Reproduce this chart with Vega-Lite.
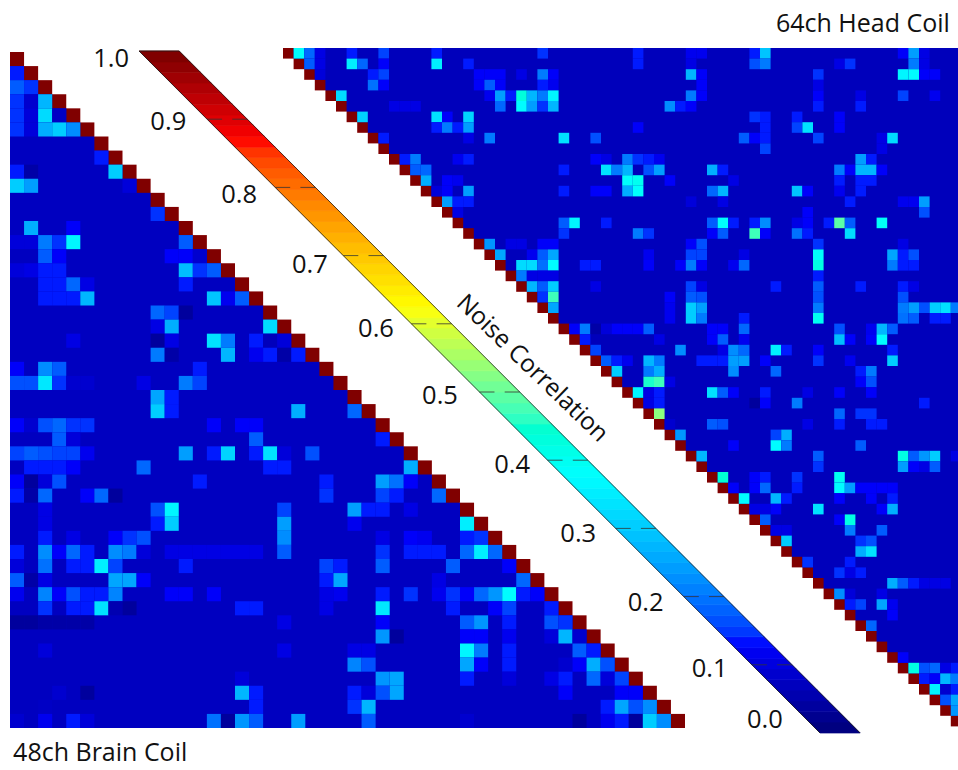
{"$schema":"https://vega.github.io/schema/vega-lite/v6.json","width":958,"height":770,"padding":0,"autosize":{"type":"none"},"background":"white","config":{"view":{"stroke":null},"style":{"cell":{"stroke":null}}},
"datasets":{
"lowerCells":[
{"r":0,"c":0,"v":1},{"r":1,"c":1,"v":1},{"r":2,"c":2,"v":1},{"r":3,"c":3,"v":1},{"r":4,"c":4,"v":1},{"r":5,"c":5,"v":1},{"r":6,"c":6,"v":1},{"r":7,"c":7,"v":1},{"r":8,"c":8,"v":1},{"r":9,"c":9,"v":1},{"r":10,"c":10,"v":1},{"r":11,"c":11,"v":1},{"r":12,"c":12,"v":1},{"r":13,"c":13,"v":1},{"r":14,"c":14,"v":1},{"r":15,"c":15,"v":1},{"r":16,"c":16,"v":1},{"r":17,"c":17,"v":1},{"r":18,"c":18,"v":1},{"r":19,"c":19,"v":1},{"r":20,"c":20,"v":1},{"r":21,"c":21,"v":1},{"r":22,"c":22,"v":1},{"r":23,"c":23,"v":1},{"r":24,"c":24,"v":1},{"r":25,"c":25,"v":1},{"r":26,"c":26,"v":1},{"r":27,"c":27,"v":1},{"r":28,"c":28,"v":1},{"r":29,"c":29,"v":1},{"r":30,"c":30,"v":1},{"r":31,"c":31,"v":1},{"r":32,"c":32,"v":1},{"r":33,"c":33,"v":1},{"r":34,"c":34,"v":1},{"r":35,"c":35,"v":1},{"r":36,"c":36,"v":1},{"r":37,"c":37,"v":1},{"r":38,"c":38,"v":1},{"r":39,"c":39,"v":1},{"r":40,"c":40,"v":1},{"r":41,"c":41,"v":1},{"r":42,"c":42,"v":1},{"r":43,"c":43,"v":1},{"r":44,"c":44,"v":1},{"r":45,"c":45,"v":1},{"r":46,"c":46,"v":1},{"r":47,"c":47,"v":1},
{"r":1,"c":0,"v":0.13},{"r":2,"c":0,"v":0.17},{"r":2,"c":1,"v":0.14},{"r":3,"c":0,"v":0.14},{"r":3,"c":1,"v":0.08},{"r":3,"c":2,"v":0.27},{"r":4,"c":0,"v":0.14},{"r":4,"c":1,"v":0.09},{"r":4,"c":2,"v":0.32},{"r":4,"c":3,"v":0.07},{"r":5,"c":0,"v":0.14},{"r":5,"c":1,"v":0.09},{"r":5,"c":2,"v":0.26},{"r":5,"c":3,"v":0.3},{"r":5,"c":4,"v":0.22},{"r":7,"c":6,"v":0.13},{"r":8,"c":0,"v":0.13},{"r":8,"c":1,"v":0.04},{"r":8,"c":7,"v":0.3},{"r":9,"c":0,"v":0.3},{"r":9,"c":1,"v":0.24},{"r":9,"c":8,"v":0.09},{"r":11,"c":10,"v":0.14},{"r":12,"c":1,"v":0.26},{"r":12,"c":4,"v":0.12},{"r":13,"c":0,"v":0.09},{"r":13,"c":1,"v":0.09},{"r":13,"c":2,"v":0.2},{"r":13,"c":3,"v":0.14},{"r":13,"c":4,"v":0.36},{"r":13,"c":12,"v":0.17},{"r":14,"c":2,"v":0.17},{"r":14,"c":3,"v":0.12},{"r":14,"c":11,"v":0.12},{"r":14,"c":12,"v":0.12},{"r":14,"c":13,"v":0.08},{"r":15,"c":0,"v":0.09},{"r":15,"c":1,"v":0.1},{"r":15,"c":2,"v":0.13},{"r":15,"c":3,"v":0.13},{"r":15,"c":12,"v":0.28},{"r":15,"c":13,"v":0.14},{"r":15,"c":14,"v":0.17},
{"r":16,"c":2,"v":0.13},{"r":16,"c":3,"v":0.13},{"r":16,"c":4,"v":0.18},{"r":16,"c":5,"v":0.1},{"r":16,"c":12,"v":0.13},{"r":17,"c":2,"v":0.13},{"r":17,"c":3,"v":0.13},{"r":17,"c":4,"v":0.13},{"r":17,"c":5,"v":0.27},{"r":17,"c":14,"v":0.29},{"r":17,"c":15,"v":0.11},{"r":17,"c":16,"v":0.17},{"r":18,"c":10,"v":0.18},{"r":18,"c":11,"v":0.15},{"r":18,"c":12,"v":0.03},{"r":19,"c":10,"v":0.1},{"r":19,"c":11,"v":0.26},{"r":19,"c":18,"v":0.32},{"r":20,"c":4,"v":0.1},{"r":20,"c":10,"v":0.03},{"r":20,"c":11,"v":0.1},{"r":20,"c":14,"v":0.33},{"r":20,"c":15,"v":0.2},{"r":20,"c":17,"v":0.13},{"r":20,"c":18,"v":0.06},{"r":20,"c":19,"v":0.09},{"r":21,"c":10,"v":0.2},{"r":21,"c":11,"v":0.04},{"r":21,"c":15,"v":0.27},{"r":21,"c":17,"v":0.11},{"r":21,"c":18,"v":0.13},{"r":21,"c":19,"v":0.04},{"r":21,"c":20,"v":0.13},{"r":22,"c":0,"v":0.12},{"r":22,"c":2,"v":0.22},{"r":22,"c":3,"v":0.17},{"r":22,"c":13,"v":0.13},{"r":23,"c":0,"v":0.16},{"r":23,"c":1,"v":0.16},{"r":23,"c":2,"v":0.34},{"r":23,"c":3,"v":0.14},{"r":23,"c":4,"v":0.08},{"r":23,"c":5,"v":0.08},{"r":23,"c":9,"v":0.1},{"r":23,"c":12,"v":0.2},{"r":23,"c":13,"v":0.15},{"r":24,"c":10,"v":0.25},{"r":24,"c":11,"v":0.13},{"r":25,"c":10,"v":0.3},{"r":25,"c":11,"v":0.13},{"r":25,"c":20,"v":0.26},{"r":25,"c":24,"v":0.18},{"r":26,"c":0,"v":0.12},{"r":26,"c":1,"v":0.08},{"r":26,"c":2,"v":0.16},{"r":26,"c":3,"v":0.18},{"r":26,"c":4,"v":0.14},{"r":26,"c":5,"v":0.14},{"r":26,"c":14,"v":0.12},{"r":26,"c":16,"v":0.12},{"r":26,"c":17,"v":0.12},{"r":27,"c":3,"v":0.17},{"r":27,"c":4,"v":0.09},{"r":27,"c":17,"v":0.17},{"r":27,"c":26,"v":0.13},{"r":28,"c":0,"v":0.15},{"r":28,"c":1,"v":0.17},{"r":28,"c":2,"v":0.16},{"r":28,"c":3,"v":0.15},{"r":28,"c":4,"v":0.15},{"r":28,"c":5,"v":0.11},{"r":28,"c":12,"v":0.24},{"r":28,"c":14,"v":0.13},{"r":28,"c":15,"v":0.31},{"r":28,"c":17,"v":0.13},{"r":28,"c":18,"v":0.33},{"r":28,"c":19,"v":0.09},{"r":28,"c":21,"v":0.16},{"r":29,"c":1,"v":0.13},{"r":29,"c":2,"v":0.13},{"r":29,"c":3,"v":0.13},{"r":29,"c":4,"v":0.12},{"r":29,"c":9,"v":0.18},{"r":29,"c":18,"v":0.13},{"r":29,"c":19,"v":0.13},{"r":29,"c":28,"v":0.26},{"r":30,"c":0,"v":0.12},{"r":30,"c":1,"v":0.03},{"r":30,"c":2,"v":0.09},{"r":30,"c":3,"v":0.16},{"r":30,"c":13,"v":0.13},{"r":30,"c":22,"v":0.13},{"r":30,"c":26,"v":0.24},{"r":30,"c":27,"v":0.19},{"r":30,"c":28,"v":0.12},{"r":31,"c":0,"v":0.13},{"r":31,"c":1,"v":0.04},{"r":31,"c":2,"v":0.18},{"r":31,"c":5,"v":0.12},{"r":31,"c":6,"v":0.18},{"r":31,"c":7,"v":0.03},{"r":31,"c":22,"v":0.14},{"r":31,"c":26,"v":0.15},{"r":31,"c":27,"v":0.13},{"r":31,"c":30,"v":0.18},
{"r":32,"c":2,"v":0.1},{"r":32,"c":10,"v":0.16},{"r":32,"c":11,"v":0.36},{"r":32,"c":19,"v":0.15},{"r":32,"c":24,"v":0.24},{"r":32,"c":25,"v":0.13},{"r":32,"c":26,"v":0.13},{"r":32,"c":28,"v":0.1},{"r":33,"c":2,"v":0.1},{"r":33,"c":10,"v":0.13},{"r":33,"c":11,"v":0.3},{"r":33,"c":19,"v":0.24},{"r":33,"c":24,"v":0.11},{"r":33,"c":32,"v":0.35},{"r":34,"c":2,"v":0.13},{"r":34,"c":4,"v":0.1},{"r":34,"c":7,"v":0.12},{"r":34,"c":8,"v":0.14},{"r":34,"c":9,"v":0.16},{"r":34,"c":19,"v":0.22},{"r":34,"c":26,"v":0.1},{"r":34,"c":28,"v":0.12},{"r":34,"c":29,"v":0.11},{"r":34,"c":32,"v":0.13},{"r":34,"c":33,"v":0.14},{"r":35,"c":0,"v":0.13},{"r":35,"c":2,"v":0.22},{"r":35,"c":3,"v":0.12},{"r":35,"c":4,"v":0.18},{"r":35,"c":5,"v":0.13},{"r":35,"c":7,"v":0.22},{"r":35,"c":8,"v":0.2},{"r":35,"c":9,"v":0.09},{"r":35,"c":11,"v":0.1},{"r":35,"c":12,"v":0.1},{"r":35,"c":13,"v":0.1},{"r":35,"c":14,"v":0.1},{"r":35,"c":15,"v":0.1},{"r":35,"c":16,"v":0.1},{"r":35,"c":17,"v":0.1},{"r":35,"c":19,"v":0.17},{"r":35,"c":26,"v":0.14},{"r":35,"c":28,"v":0.13},{"r":35,"c":29,"v":0.13},{"r":35,"c":30,"v":0.13},{"r":35,"c":32,"v":0.18},{"r":35,"c":33,"v":0.35},{"r":35,"c":34,"v":0.18},{"r":36,"c":0,"v":0.09},{"r":36,"c":2,"v":0.19},{"r":36,"c":4,"v":0.13},{"r":36,"c":5,"v":0.13},{"r":36,"c":6,"v":0.35},{"r":36,"c":7,"v":0.15},{"r":36,"c":12,"v":0.13},{"r":36,"c":22,"v":0.15},{"r":36,"c":23,"v":0.13},{"r":36,"c":26,"v":0.17},{"r":36,"c":31,"v":0.17},{"r":36,"c":35,"v":0.12},{"r":37,"c":0,"v":0.17},{"r":37,"c":1,"v":0.04},{"r":37,"c":2,"v":0.1},{"r":37,"c":7,"v":0.25},{"r":37,"c":8,"v":0.25},{"r":37,"c":9,"v":0.12},{"r":37,"c":22,"v":0.13},{"r":37,"c":23,"v":0.25},{"r":37,"c":30,"v":0.1},{"r":37,"c":36,"v":0.18},{"r":38,"c":0,"v":0.11},{"r":38,"c":2,"v":0.21},{"r":38,"c":3,"v":0.12},{"r":38,"c":4,"v":0.16},{"r":38,"c":5,"v":0.13},{"r":38,"c":6,"v":0.13},{"r":38,"c":7,"v":0.21},{"r":38,"c":11,"v":0.12},{"r":38,"c":12,"v":0.12},{"r":38,"c":14,"v":0.12},{"r":38,"c":22,"v":0.1},{"r":38,"c":23,"v":0.11},{"r":38,"c":26,"v":0.13},{"r":38,"c":28,"v":0.14},{"r":38,"c":30,"v":0.11},{"r":38,"c":31,"v":0.14},{"r":38,"c":32,"v":0.12},{"r":38,"c":33,"v":0.18},{"r":38,"c":34,"v":0.23},{"r":38,"c":35,"v":0.37},{"r":38,"c":36,"v":0.13},{"r":38,"c":37,"v":0.12},{"r":39,"c":2,"v":0.14},{"r":39,"c":4,"v":0.13},{"r":39,"c":5,"v":0.13},{"r":39,"c":6,"v":0.33},{"r":39,"c":7,"v":0.05},{"r":39,"c":8,"v":0.03},{"r":39,"c":16,"v":0.13},{"r":39,"c":17,"v":0.13},{"r":39,"c":22,"v":0.1},{"r":39,"c":26,"v":0.34},{"r":39,"c":31,"v":0.13},{"r":39,"c":34,"v":0.12},{"r":39,"c":35,"v":0.15},{"r":39,"c":38,"v":0.13},
{"r":40,"c":0,"v":0.03},{"r":40,"c":1,"v":0.03},{"r":40,"c":2,"v":0.04},{"r":40,"c":3,"v":0.04},{"r":40,"c":4,"v":0.04},{"r":40,"c":5,"v":0.04},{"r":40,"c":19,"v":0.1},{"r":40,"c":26,"v":0.12},{"r":40,"c":32,"v":0.17},{"r":40,"c":33,"v":0.23},{"r":40,"c":35,"v":0.13},{"r":40,"c":38,"v":0.16},{"r":40,"c":39,"v":0.14},{"r":41,"c":26,"v":0.23},{"r":41,"c":27,"v":0.03},{"r":41,"c":32,"v":0.12},{"r":41,"c":33,"v":0.12},{"r":41,"c":35,"v":0.11},{"r":41,"c":38,"v":0.09},{"r":41,"c":39,"v":0.27},{"r":41,"c":40,"v":0.08},{"r":42,"c":2,"v":0.09},{"r":42,"c":19,"v":0.1},{"r":42,"c":24,"v":0.1},{"r":42,"c":25,"v":0.1},{"r":42,"c":32,"v":0.36},{"r":42,"c":33,"v":0.2},{"r":42,"c":35,"v":0.13},{"r":42,"c":40,"v":0.17},{"r":42,"c":41,"v":0.13},{"r":43,"c":24,"v":0.21},{"r":43,"c":25,"v":0.16},{"r":43,"c":32,"v":0.25},{"r":43,"c":33,"v":0.12},{"r":43,"c":35,"v":0.13},{"r":43,"c":39,"v":0.08},{"r":43,"c":40,"v":0.12},{"r":43,"c":41,"v":0.26},{"r":43,"c":42,"v":0.16},{"r":44,"c":16,"v":0.09},{"r":44,"c":26,"v":0.23},{"r":44,"c":27,"v":0.25},{"r":44,"c":32,"v":0.13},{"r":44,"c":35,"v":0.09},{"r":44,"c":38,"v":0.1},{"r":44,"c":39,"v":0.13},{"r":44,"c":41,"v":0.18},{"r":44,"c":42,"v":0.09},{"r":44,"c":43,"v":0.15},{"r":45,"c":3,"v":0.08},{"r":45,"c":5,"v":0.03},{"r":45,"c":16,"v":0.27},{"r":45,"c":17,"v":0.13},{"r":45,"c":24,"v":0.13},{"r":45,"c":25,"v":0.09},{"r":45,"c":26,"v":0.16},{"r":45,"c":27,"v":0.25},{"r":45,"c":39,"v":0.12},{"r":45,"c":43,"v":0.12},{"r":45,"c":44,"v":0.12},{"r":46,"c":2,"v":0.07},{"r":46,"c":17,"v":0.13},{"r":46,"c":24,"v":0.14},{"r":46,"c":25,"v":0.27},{"r":46,"c":42,"v":0.13},{"r":46,"c":43,"v":0.25},{"r":46,"c":44,"v":0.16},{"r":46,"c":45,"v":0.22},{"r":47,"c":0,"v":0.08},{"r":47,"c":2,"v":0.11},{"r":47,"c":4,"v":0.13},{"r":47,"c":5,"v":0.09},{"r":47,"c":14,"v":0.19},{"r":47,"c":15,"v":0.03},{"r":47,"c":16,"v":0.23},{"r":47,"c":17,"v":0.17},{"r":47,"c":20,"v":0.24},{"r":47,"c":25,"v":0.17},{"r":47,"c":32,"v":0.08},{"r":47,"c":40,"v":0.03},{"r":47,"c":42,"v":0.11},{"r":47,"c":43,"v":0.13},{"r":47,"c":44,"v":0.03},{"r":47,"c":45,"v":0.3},{"r":47,"c":46,"v":0.22}],
"upperCells":[
{"r":0,"c":0,"v":1},{"r":1,"c":1,"v":1},{"r":2,"c":2,"v":1},{"r":3,"c":3,"v":1},{"r":4,"c":4,"v":1},{"r":5,"c":5,"v":1},{"r":6,"c":6,"v":1},{"r":7,"c":7,"v":1},{"r":8,"c":8,"v":1},{"r":9,"c":9,"v":1},{"r":10,"c":10,"v":1},{"r":11,"c":11,"v":1},{"r":12,"c":12,"v":1},{"r":13,"c":13,"v":1},{"r":14,"c":14,"v":1},{"r":15,"c":15,"v":1},{"r":16,"c":16,"v":1},{"r":17,"c":17,"v":1},{"r":18,"c":18,"v":1},{"r":19,"c":19,"v":1},{"r":20,"c":20,"v":1},{"r":21,"c":21,"v":1},{"r":22,"c":22,"v":1},{"r":23,"c":23,"v":1},{"r":24,"c":24,"v":1},{"r":25,"c":25,"v":1},{"r":26,"c":26,"v":1},{"r":27,"c":27,"v":1},{"r":28,"c":28,"v":1},{"r":29,"c":29,"v":1},{"r":30,"c":30,"v":1},{"r":31,"c":31,"v":1},{"r":32,"c":32,"v":1},{"r":33,"c":33,"v":1},{"r":34,"c":34,"v":1},{"r":35,"c":35,"v":1},{"r":36,"c":36,"v":1},{"r":37,"c":37,"v":1},{"r":38,"c":38,"v":1},{"r":39,"c":39,"v":1},{"r":40,"c":40,"v":1},{"r":41,"c":41,"v":1},{"r":42,"c":42,"v":1},{"r":43,"c":43,"v":1},{"r":44,"c":44,"v":1},{"r":45,"c":45,"v":1},{"r":46,"c":46,"v":1},{"r":47,"c":47,"v":1},{"r":48,"c":48,"v":1},{"r":49,"c":49,"v":1},{"r":50,"c":50,"v":1},{"r":51,"c":51,"v":1},{"r":52,"c":52,"v":1},{"r":53,"c":53,"v":1},{"r":54,"c":54,"v":1},{"r":55,"c":55,"v":1},{"r":56,"c":56,"v":1},{"r":57,"c":57,"v":1},{"r":58,"c":58,"v":1},{"r":59,"c":59,"v":1},{"r":60,"c":60,"v":1},{"r":61,"c":61,"v":1},{"r":62,"c":62,"v":1},{"r":63,"c":63,"v":1},
{"r":0,"c":1,"v":0.38},{"r":0,"c":2,"v":0.18},{"r":0,"c":3,"v":0.1},{"r":0,"c":6,"v":0.13},{"r":0,"c":9,"v":0.15},{"r":0,"c":14,"v":0.13},{"r":0,"c":24,"v":0.14},{"r":0,"c":33,"v":0.13},{"r":0,"c":38,"v":0.11},{"r":0,"c":39,"v":0.11},{"r":0,"c":44,"v":0.13},{"r":0,"c":45,"v":0.29},{"r":0,"c":58,"v":0.12},{"r":0,"c":59,"v":0.24},{"r":0,"c":60,"v":0.1},
{"r":1,"c":2,"v":0.17},{"r":1,"c":3,"v":0.1},{"r":1,"c":6,"v":0.35},{"r":1,"c":7,"v":0.18},{"r":1,"c":9,"v":0.12},{"r":1,"c":14,"v":0.35},{"r":1,"c":17,"v":0.13},{"r":1,"c":33,"v":0.13},{"r":1,"c":38,"v":0.1},{"r":1,"c":44,"v":0.16},{"r":1,"c":45,"v":0.2},{"r":1,"c":52,"v":0.1},{"r":1,"c":53,"v":0.14},{"r":1,"c":59,"v":0.2},{"r":1,"c":60,"v":0.1},
{"r":2,"c":3,"v":0.09},{"r":2,"c":8,"v":0.13},{"r":2,"c":9,"v":0.15},{"r":2,"c":18,"v":0.12},{"r":2,"c":19,"v":0.12},{"r":2,"c":20,"v":0.12},{"r":2,"c":22,"v":0.1},{"r":2,"c":24,"v":0.2},{"r":2,"c":25,"v":0.12},{"r":2,"c":38,"v":0.27},{"r":2,"c":39,"v":0.12},{"r":2,"c":50,"v":0.14},{"r":2,"c":58,"v":0.36},{"r":2,"c":59,"v":0.37},{"r":2,"c":60,"v":0.12},{"r":2,"c":61,"v":0.12},
{"r":3,"c":8,"v":0.19},{"r":3,"c":9,"v":0.12},{"r":3,"c":18,"v":0.12},{"r":3,"c":19,"v":0.17},{"r":3,"c":20,"v":0.12},{"r":3,"c":24,"v":0.13},{"r":3,"c":25,"v":0.11},{"r":3,"c":39,"v":0.12},{"r":3,"c":50,"v":0.1},
{"r":4,"c":5,"v":0.32},{"r":4,"c":19,"v":0.11},{"r":4,"c":20,"v":0.24},{"r":4,"c":21,"v":0.13},{"r":4,"c":22,"v":0.43},{"r":4,"c":23,"v":0.27},{"r":4,"c":24,"v":0.2},{"r":4,"c":25,"v":0.36},{"r":4,"c":38,"v":0.2},{"r":4,"c":39,"v":0.12},{"r":4,"c":50,"v":0.12},{"r":4,"c":54,"v":0.1},{"r":4,"c":58,"v":0.15},{"r":4,"c":61,"v":0.11},
{"r":5,"c":10,"v":0.1},{"r":5,"c":11,"v":0.1},{"r":5,"c":12,"v":0.1},{"r":5,"c":20,"v":0.18},{"r":5,"c":22,"v":0.37},{"r":5,"c":23,"v":0.24},{"r":5,"c":24,"v":0.14},{"r":5,"c":25,"v":0.27},{"r":5,"c":36,"v":0.22},{"r":5,"c":37,"v":0.13},{"r":5,"c":38,"v":0.12},{"r":5,"c":50,"v":0.13},{"r":5,"c":54,"v":0.13},
{"r":6,"c":7,"v":0.31},{"r":6,"c":14,"v":0.33},{"r":6,"c":15,"v":0.12},{"r":6,"c":17,"v":0.31},{"r":6,"c":44,"v":0.14},{"r":6,"c":45,"v":0.13},{"r":6,"c":48,"v":0.13},{"r":6,"c":52,"v":0.12},
{"r":7,"c":14,"v":0.13},{"r":7,"c":15,"v":0.2},{"r":7,"c":16,"v":0.13},{"r":7,"c":17,"v":0.24},{"r":7,"c":33,"v":0.12},{"r":7,"c":45,"v":0.13},{"r":7,"c":48,"v":0.15},{"r":7,"c":49,"v":0.33},{"r":7,"c":52,"v":0.12},
{"r":8,"c":9,"v":0.13},{"r":8,"c":17,"v":0.1},{"r":8,"c":19,"v":0.2},{"r":8,"c":26,"v":0.33},{"r":8,"c":29,"v":0.16},{"r":8,"c":43,"v":0.17},{"r":8,"c":44,"v":0.12},{"r":8,"c":45,"v":0.13},{"r":8,"c":50,"v":0.15},{"r":8,"c":56,"v":0.1},{"r":8,"c":57,"v":0.32},{"r":9,"c":45,"v":0.15},{"r":9,"c":56,"v":0.1},
{"r":10,"c":11,"v":0.13},{"r":10,"c":12,"v":0.2},{"r":10,"c":16,"v":0.11},{"r":10,"c":17,"v":0.13},{"r":10,"c":29,"v":0.12},{"r":10,"c":30,"v":0.1},{"r":10,"c":32,"v":0.2},{"r":10,"c":33,"v":0.14},{"r":10,"c":34,"v":0.13},{"r":10,"c":35,"v":0.11},{"r":10,"c":54,"v":0.24},{"r":10,"c":55,"v":0.13},
{"r":11,"c":12,"v":0.17},{"r":11,"c":13,"v":0.18},{"r":11,"c":26,"v":0.13},{"r":11,"c":30,"v":0.33},{"r":11,"c":31,"v":0.2},{"r":11,"c":32,"v":0.27},{"r":11,"c":34,"v":0.16},{"r":11,"c":35,"v":0.24},{"r":11,"c":40,"v":0.26},{"r":11,"c":41,"v":0.13},{"r":11,"c":52,"v":0.2},{"r":11,"c":53,"v":0.12},{"r":11,"c":54,"v":0.27},{"r":11,"c":55,"v":0.27},{"r":11,"c":56,"v":0.12},
{"r":12,"c":13,"v":0.26},{"r":12,"c":15,"v":0.12},{"r":12,"c":16,"v":0.11},{"r":12,"c":32,"v":0.38},{"r":12,"c":33,"v":0.4},{"r":12,"c":36,"v":0.12},{"r":12,"c":42,"v":0.1},{"r":12,"c":52,"v":0.13},{"r":12,"c":54,"v":0.13},{"r":12,"c":55,"v":0.13},
{"r":13,"c":14,"v":0.09},{"r":13,"c":15,"v":0.12},{"r":13,"c":17,"v":0.24},{"r":13,"c":26,"v":0.13},{"r":13,"c":29,"v":0.12},{"r":13,"c":30,"v":0.12},{"r":13,"c":32,"v":0.26},{"r":13,"c":33,"v":0.38},{"r":13,"c":40,"v":0.18},{"r":13,"c":41,"v":0.27},{"r":13,"c":48,"v":0.29},{"r":13,"c":49,"v":0.12},{"r":13,"c":52,"v":0.11},{"r":13,"c":54,"v":0.13},
{"r":14,"c":15,"v":0.24},{"r":14,"c":16,"v":0.13},{"r":14,"c":17,"v":0.13},{"r":14,"c":38,"v":0.09},{"r":14,"c":41,"v":0.1},{"r":14,"c":53,"v":0.13},{"r":14,"c":58,"v":0.11},{"r":14,"c":59,"v":0.11},{"r":14,"c":60,"v":0.24},{"r":15,"c":16,"v":0.1},{"r":15,"c":49,"v":0.12},{"r":15,"c":60,"v":0.16},
{"r":16,"c":26,"v":0.17},{"r":16,"c":27,"v":0.36},{"r":16,"c":30,"v":0.13},{"r":16,"c":40,"v":0.17},{"r":16,"c":41,"v":0.38},{"r":16,"c":42,"v":0.13},{"r":16,"c":44,"v":0.13},{"r":16,"c":45,"v":0.22},{"r":16,"c":48,"v":0.1},{"r":16,"c":49,"v":0.12},{"r":16,"c":51,"v":0.13},{"r":16,"c":52,"v":0.49},{"r":16,"c":53,"v":0.17},{"r":16,"c":56,"v":0.39},
{"r":17,"c":26,"v":0.14},{"r":17,"c":33,"v":0.2},{"r":17,"c":34,"v":0.14},{"r":17,"c":40,"v":0.12},{"r":17,"c":41,"v":0.17},{"r":17,"c":44,"v":0.47},{"r":17,"c":45,"v":0.12},{"r":17,"c":48,"v":0.19},{"r":17,"c":49,"v":0.13},{"r":17,"c":53,"v":0.32},
{"r":18,"c":19,"v":0.23},{"r":18,"c":21,"v":0.1},{"r":18,"c":22,"v":0.1},{"r":18,"c":24,"v":0.12},{"r":18,"c":25,"v":0.12},{"r":18,"c":38,"v":0.12},{"r":18,"c":39,"v":0.16},{"r":18,"c":50,"v":0.14},{"r":18,"c":58,"v":0.1},
{"r":19,"c":20,"v":0.25},{"r":19,"c":23,"v":0.11},{"r":19,"c":24,"v":0.17},{"r":19,"c":25,"v":0.25},{"r":19,"c":34,"v":0.11},{"r":19,"c":38,"v":0.15},{"r":19,"c":39,"v":0.15},{"r":19,"c":43,"v":0.1},{"r":19,"c":50,"v":0.38},{"r":19,"c":57,"v":0.25},{"r":19,"c":58,"v":0.13},{"r":19,"c":59,"v":0.16},
{"r":20,"c":22,"v":0.32},{"r":20,"c":23,"v":0.32},{"r":20,"c":24,"v":0.19},{"r":20,"c":25,"v":0.37},{"r":20,"c":28,"v":0.13},{"r":20,"c":29,"v":0.13},{"r":20,"c":34,"v":0.12},{"r":20,"c":37,"v":0.12},{"r":20,"c":38,"v":0.2},{"r":20,"c":39,"v":0.12},{"r":20,"c":42,"v":0.11},{"r":20,"c":43,"v":0.18},{"r":20,"c":50,"v":0.42},{"r":20,"c":57,"v":0.2},{"r":20,"c":58,"v":0.13},{"r":20,"c":59,"v":0.13},
{"r":21,"c":22,"v":0.2},{"r":21,"c":23,"v":0.1},{"r":21,"c":24,"v":0.1},{"r":21,"c":25,"v":0.1},{"r":21,"c":50,"v":0.13},
{"r":22,"c":23,"v":0.27},{"r":22,"c":24,"v":0.17},{"r":22,"c":25,"v":0.3},{"r":22,"c":29,"v":0.1},{"r":22,"c":38,"v":0.15},{"r":22,"c":39,"v":0.1},{"r":22,"c":46,"v":0.13},{"r":22,"c":50,"v":0.17},{"r":22,"c":54,"v":0.13},{"r":22,"c":58,"v":0.13},{"r":22,"c":59,"v":0.1},
{"r":23,"c":24,"v":0.14},{"r":23,"c":25,"v":0.47},{"r":23,"c":36,"v":0.12},{"r":23,"c":38,"v":0.17},{"r":23,"c":39,"v":0.16},{"r":23,"c":50,"v":0.16},{"r":23,"c":58,"v":0.16},
{"r":24,"c":25,"v":0.25},{"r":24,"c":36,"v":0.11},{"r":24,"c":38,"v":0.3},{"r":24,"c":39,"v":0.24},{"r":24,"c":50,"v":0.2},{"r":24,"c":58,"v":0.2},{"r":24,"c":59,"v":0.24},{"r":24,"c":60,"v":0.16},{"r":24,"c":61,"v":0.3},{"r":24,"c":62,"v":0.33},{"r":24,"c":63,"v":0.2},
{"r":25,"c":36,"v":0.11},{"r":25,"c":38,"v":0.3},{"r":25,"c":39,"v":0.2},{"r":25,"c":43,"v":0.13},{"r":25,"c":50,"v":0.4},{"r":25,"c":58,"v":0.19},{"r":25,"c":59,"v":0.17},{"r":25,"c":61,"v":0.13},{"r":25,"c":62,"v":0.13},
{"r":26,"c":27,"v":0.12},{"r":26,"c":28,"v":0.2},{"r":26,"c":29,"v":0.04},{"r":26,"c":30,"v":0.09},{"r":26,"c":31,"v":0.12},{"r":26,"c":32,"v":0.12},{"r":26,"c":33,"v":0.12},{"r":26,"c":34,"v":0.17},{"r":26,"c":40,"v":0.12},{"r":26,"c":41,"v":0.12},{"r":26,"c":43,"v":0.18},{"r":26,"c":52,"v":0.16},{"r":26,"c":55,"v":0.11},{"r":26,"c":56,"v":0.27},{"r":26,"c":57,"v":0.17},
{"r":27,"c":28,"v":0.13},{"r":27,"c":35,"v":0.1},{"r":27,"c":40,"v":0.12},{"r":27,"c":41,"v":0.17},{"r":27,"c":43,"v":0.11},{"r":27,"c":52,"v":0.28},{"r":27,"c":53,"v":0.12},{"r":27,"c":55,"v":0.12},{"r":27,"c":56,"v":0.37},
{"r":28,"c":29,"v":0.15},{"r":28,"c":37,"v":0.22},{"r":28,"c":41,"v":0.1},{"r":28,"c":42,"v":0.22},{"r":28,"c":43,"v":0.18},{"r":28,"c":46,"v":0.35},{"r":28,"c":47,"v":0.13},{"r":28,"c":50,"v":0.12},{"r":28,"c":57,"v":0.13},
{"r":29,"c":30,"v":0.17},{"r":29,"c":31,"v":0.13},{"r":29,"c":32,"v":0.11},{"r":29,"c":34,"v":0.27},{"r":29,"c":35,"v":0.2},{"r":29,"c":39,"v":0.13},{"r":29,"c":40,"v":0.13},{"r":29,"c":41,"v":0.13},{"r":29,"c":42,"v":0.24},{"r":29,"c":43,"v":0.24},{"r":29,"c":45,"v":0.12},{"r":29,"c":50,"v":0.14},{"r":29,"c":53,"v":0.11},{"r":29,"c":57,"v":0.3},
{"r":30,"c":31,"v":0.3},{"r":30,"c":34,"v":0.2},{"r":30,"c":35,"v":0.26},{"r":30,"c":42,"v":0.22},{"r":30,"c":46,"v":0.18},{"r":30,"c":54,"v":0.13},{"r":30,"c":55,"v":0.2},
{"r":31,"c":34,"v":0.45},{"r":31,"c":35,"v":0.47},{"r":31,"c":36,"v":0.1},{"r":31,"c":54,"v":0.12},{"r":31,"c":55,"v":0.16},
{"r":32,"c":33,"v":0.36},{"r":32,"c":34,"v":0.1},{"r":32,"c":35,"v":0.13},{"r":32,"c":40,"v":0.33},{"r":32,"c":41,"v":0.17},{"r":32,"c":42,"v":0.12},{"r":32,"c":45,"v":0.13},{"r":32,"c":49,"v":0.1},{"r":32,"c":52,"v":0.12},{"r":32,"c":55,"v":0.12},
{"r":33,"c":34,"v":0.1},{"r":33,"c":35,"v":0.13},{"r":33,"c":44,"v":0.03},{"r":33,"c":45,"v":0.12},{"r":33,"c":48,"v":0.2},{"r":33,"c":60,"v":0.13},{"r":34,"c":35,"v":0.53},{"r":34,"c":52,"v":0.18},{"r":34,"c":54,"v":0.14},{"r":34,"c":55,"v":0.14},
{"r":35,"c":36,"v":0.08},{"r":35,"c":40,"v":0.17},{"r":35,"c":41,"v":0.16},{"r":35,"c":49,"v":0.1},{"r":35,"c":52,"v":0.13},{"r":35,"c":55,"v":0.13},{"r":35,"c":56,"v":0.13},
{"r":36,"c":37,"v":0.23},{"r":36,"c":46,"v":0.15},{"r":36,"c":47,"v":0.26},{"r":37,"c":42,"v":0.12},{"r":37,"c":46,"v":0.37},{"r":37,"c":47,"v":0.2},{"r":37,"c":54,"v":0.17},
{"r":38,"c":39,"v":0.27},{"r":38,"c":50,"v":0.17},{"r":38,"c":58,"v":0.42},{"r":38,"c":59,"v":0.17},{"r":38,"c":60,"v":0.23},{"r":38,"c":61,"v":0.3},{"r":38,"c":63,"v":0.1},{"r":39,"c":50,"v":0.14},{"r":39,"c":58,"v":0.24},{"r":39,"c":59,"v":0.12},{"r":39,"c":60,"v":0.1},{"r":39,"c":61,"v":0.17},
{"r":40,"c":41,"v":0.44},{"r":40,"c":44,"v":0.12},{"r":40,"c":45,"v":0.13},{"r":40,"c":48,"v":0.14},{"r":40,"c":52,"v":0.4},
{"r":41,"c":42,"v":0.12},{"r":41,"c":44,"v":0.12},{"r":41,"c":45,"v":0.18},{"r":41,"c":48,"v":0.13},{"r":41,"c":52,"v":0.37},{"r":41,"c":53,"v":0.24},{"r":41,"c":54,"v":0.12},{"r":41,"c":55,"v":0.12},{"r":41,"c":56,"v":0.12},{"r":41,"c":57,"v":0.12},
{"r":42,"c":43,"v":0.37},{"r":42,"c":46,"v":0.27},{"r":42,"c":47,"v":0.13},{"r":42,"c":52,"v":0.12},{"r":42,"c":55,"v":0.12},{"r":42,"c":57,"v":0.13},
{"r":43,"c":44,"v":0.1},{"r":43,"c":45,"v":0.1},{"r":43,"c":46,"v":0.12},{"r":43,"c":50,"v":0.33},{"r":43,"c":56,"v":0.12},{"r":43,"c":57,"v":0.26},{"r":44,"c":45,"v":0.17},{"r":44,"c":52,"v":0.12},{"r":44,"c":53,"v":0.42},{"r":45,"c":46,"v":0.1},{"r":45,"c":47,"v":0.1},{"r":45,"c":53,"v":0.2},{"r":45,"c":56,"v":0.17},{"r":46,"c":47,"v":0.3},{"r":46,"c":54,"v":0.14},{"r":46,"c":55,"v":0.16},{"r":47,"c":54,"v":0.26},{"r":47,"c":55,"v":0.33},{"r":48,"c":49,"v":0.14},{"r":48,"c":53,"v":0.13},{"r":49,"c":52,"v":0.14},{"r":49,"c":53,"v":0.1},{"r":49,"c":54,"v":0.13},{"r":50,"c":57,"v":0.26},{"r":50,"c":58,"v":0.17},{"r":50,"c":59,"v":0.13},{"r":50,"c":60,"v":0.1},{"r":50,"c":61,"v":0.1},{"r":50,"c":62,"v":0.1},{"r":51,"c":52,"v":0.22},{"r":51,"c":53,"v":0.09},{"r":51,"c":56,"v":0.1},{"r":52,"c":53,"v":0.13},{"r":52,"c":54,"v":0.15},{"r":52,"c":56,"v":0.25},{"r":52,"c":57,"v":0.11},{"r":53,"c":57,"v":0.12},{"r":54,"c":55,"v":0.18},{"r":57,"c":58,"v":0.12},{"r":58,"c":59,"v":0.42},{"r":58,"c":60,"v":0.16},{"r":58,"c":61,"v":0.18},{"r":58,"c":62,"v":0.1},{"r":58,"c":63,"v":0.13},{"r":59,"c":60,"v":0.13},{"r":59,"c":61,"v":0.12},{"r":59,"c":62,"v":0.27},{"r":59,"c":63,"v":0.2},{"r":60,"c":61,"v":0.36},{"r":60,"c":62,"v":0.08},{"r":60,"c":63,"v":0.13},{"r":61,"c":62,"v":0.16},{"r":61,"c":63,"v":0.25},{"r":62,"c":63,"v":0.23}],
"bands":[
{"k":0,"v":[0,0.016],"e":[-0.059,-0.043]},{"k":0.016,"v":[0.016,0.031],"e":[-0.043,-0.028]},{"k":0.032,"v":[0.031,0.047],"e":[-0.028,-0.012]},{"k":0.048,"v":[0.047,0.063],"e":[-0.012,0.004]},{"k":0.063,"v":[0.063,0.078],"e":[0.004,0.019]},{"k":0.079,"v":[0.078,0.094],"e":[0.019,0.035]},{"k":0.095,"v":[0.094,0.109],"e":[0.035,0.05]},{"k":0.111,"v":[0.109,0.125],"e":[0.05,0.066]},{"k":0.127,"v":[0.125,0.141],"e":[0.066,0.082]},{"k":0.143,"v":[0.141,0.156],"e":[0.082,0.097]},{"k":0.159,"v":[0.156,0.172],"e":[0.097,0.113]},{"k":0.175,"v":[0.172,0.188],"e":[0.113,0.129]},{"k":0.19,"v":[0.188,0.203],"e":[0.129,0.144]},{"k":0.206,"v":[0.203,0.219],"e":[0.144,0.16]},{"k":0.222,"v":[0.219,0.234],"e":[0.16,0.175]},{"k":0.238,"v":[0.234,0.25],"e":[0.175,0.191]},{"k":0.254,"v":[0.25,0.266],"e":[0.191,0.207]},{"k":0.27,"v":[0.266,0.281],"e":[0.207,0.222]},{"k":0.286,"v":[0.281,0.297],"e":[0.222,0.238]},{"k":0.302,"v":[0.297,0.313],"e":[0.238,0.254]},{"k":0.317,"v":[0.313,0.328],"e":[0.254,0.269]},{"k":0.333,"v":[0.328,0.344],"e":[0.269,0.285]},{"k":0.349,"v":[0.344,0.359],"e":[0.285,0.3]},{"k":0.365,"v":[0.359,0.375],"e":[0.3,0.316]},{"k":0.381,"v":[0.375,0.391],"e":[0.316,0.332]},{"k":0.397,"v":[0.391,0.406],"e":[0.332,0.347]},{"k":0.413,"v":[0.406,0.422],"e":[0.347,0.363]},{"k":0.429,"v":[0.422,0.438],"e":[0.363,0.379]},{"k":0.444,"v":[0.438,0.453],"e":[0.379,0.394]},{"k":0.46,"v":[0.453,0.469],"e":[0.394,0.41]},{"k":0.476,"v":[0.469,0.484],"e":[0.41,0.425]},{"k":0.492,"v":[0.484,0.5],"e":[0.425,0.441]},{"k":0.508,"v":[0.5,0.516],"e":[0.441,0.457]},{"k":0.524,"v":[0.516,0.531],"e":[0.457,0.472]},{"k":0.54,"v":[0.531,0.547],"e":[0.472,0.488]},{"k":0.556,"v":[0.547,0.563],"e":[0.488,0.504]},{"k":0.571,"v":[0.563,0.578],"e":[0.504,0.519]},{"k":0.587,"v":[0.578,0.594],"e":[0.519,0.535]},{"k":0.603,"v":[0.594,0.609],"e":[0.535,0.55]},{"k":0.619,"v":[0.609,0.625],"e":[0.55,0.566]},{"k":0.635,"v":[0.625,0.641],"e":[0.566,0.582]},{"k":0.651,"v":[0.641,0.656],"e":[0.582,0.597]},{"k":0.667,"v":[0.656,0.672],"e":[0.597,0.613]},{"k":0.683,"v":[0.672,0.688],"e":[0.613,0.629]},{"k":0.698,"v":[0.688,0.703],"e":[0.629,0.644]},{"k":0.714,"v":[0.703,0.719],"e":[0.644,0.66]},{"k":0.73,"v":[0.719,0.734],"e":[0.66,0.675]},{"k":0.746,"v":[0.734,0.75],"e":[0.675,0.691]},{"k":0.762,"v":[0.75,0.766],"e":[0.691,0.707]},{"k":0.778,"v":[0.766,0.781],"e":[0.707,0.722]},{"k":0.794,"v":[0.781,0.797],"e":[0.722,0.738]},{"k":0.81,"v":[0.797,0.813],"e":[0.738,0.754]},{"k":0.825,"v":[0.813,0.828],"e":[0.754,0.769]},{"k":0.841,"v":[0.828,0.844],"e":[0.769,0.785]},{"k":0.857,"v":[0.844,0.859],"e":[0.785,0.8]},{"k":0.873,"v":[0.859,0.875],"e":[0.8,0.816]},{"k":0.889,"v":[0.875,0.891],"e":[0.816,0.832]},{"k":0.905,"v":[0.891,0.906],"e":[0.832,0.847]},{"k":0.921,"v":[0.906,0.922],"e":[0.847,0.863]},{"k":0.937,"v":[0.922,0.938],"e":[0.863,0.879]},{"k":0.952,"v":[0.938,0.953],"e":[0.879,0.894]},{"k":0.968,"v":[0.953,0.969],"e":[0.894,0.91]},{"k":0.984,"v":[0.969,0.984],"e":[0.91,0.925]},{"k":1,"v":[0.984,1],"e":[0.925,0.941]}],
"labels":[
{"t":"1.0","u":1.041,"w":0.988},{"t":"0.9","u":0.957,"w":0.896},{"t":"0.8","u":0.853,"w":0.789},{"t":"0.7","u":0.749,"w":0.686},{"t":"0.6","u":0.652,"w":0.592},{"t":"0.5","u":0.558,"w":0.494},{"t":"0.4","u":0.452,"w":0.393},{"t":"0.3","u":0.355,"w":0.292},{"t":"0.2","u":0.256,"w":0.191},{"t":"0.1","u":0.162,"w":0.094},{"t":"0.0","u":0.081,"w":0.019}],
"titles":[{"t":"64ch Head Coil","u":-0.063,"w":1.04},{"t":"48ch Brain Coil","u":1.057,"w":-0.029}],
"ticks":[
{"t":0.9,"a":0.9,"b":0.878},{"t":0.9,"a":0.863,"b":0.841},{"t":0.8,"a":0.8,"b":0.778},{"t":0.8,"a":0.763,"b":0.741},{"t":0.7,"a":0.7,"b":0.678},{"t":0.7,"a":0.663,"b":0.641},{"t":0.6,"a":0.6,"b":0.578},{"t":0.6,"a":0.563,"b":0.541},{"t":0.5,"a":0.5,"b":0.478},{"t":0.5,"a":0.463,"b":0.441},{"t":0.4,"a":0.4,"b":0.378},{"t":0.4,"a":0.363,"b":0.341},{"t":0.3,"a":0.3,"b":0.278},{"t":0.3,"a":0.263,"b":0.241},{"t":0.2,"a":0.2,"b":0.178},{"t":0.2,"a":0.163,"b":0.141},{"t":0.1,"a":0.1,"b":0.078},{"t":0.1,"a":0.063,"b":0.041}]
},
"resolve":{"scale":{"x":"independent","y":"independent"}},
"layer":[
{"data":{"values":[{"a":0,"b":48,"v":0.065},{"a":48,"b":48,"v":0.065}]},"mark":{"type":"area","orient":"vertical","clip":false},"encoding":{"x":{"field":"a","type":"quantitative","axis":null,"scale":{"domain":[0,48],"range":[10,685],"nice":false,"zero":false}},"y":{"field":"a","type":"quantitative","axis":null,"scale":{"domain":[0,48],"range":[52,728],"nice":false,"zero":false}},"y2":{"field":"b"},"color":{"field":"v","type":"quantitative","legend":null,"scale":{"domain":[0,0.125,0.375,0.625,0.875,1],"range":["#000080","#0000ff","#00ffff","#ffff00","#ff0000","#800000"]}}}},
{"data":{"values":[{"a":0,"b":0,"v":0.06},{"a":64,"b":0,"v":0.06}]},"mark":{"type":"area","orient":"vertical"},"encoding":{"x":{"field":"a","type":"quantitative","axis":null,"scale":{"domain":[0,64],"range":[283,961.4],"nice":false,"zero":false}},"y":{"field":"a","type":"quantitative","axis":null,"scale":{"domain":[0,64],"range":[48,726.4],"nice":false,"zero":false}},"y2":{"field":"b"},"color":{"field":"v","type":"quantitative","legend":null}}},
{"data":{"name":"lowerCells"},"mark":{"type":"rect"},"encoding":{"x":{"field":"c","type":"ordinal","axis":null,"scale":{"domain":[0,1,2,3,4,5,6,7,8,9,10,11,12,13,14,15,16,17,18,19,20,21,22,23,24,25,26,27,28,29,30,31,32,33,34,35,36,37,38,39,40,41,42,43,44,45,46,47],"range":[10,685],"paddingInner":0,"paddingOuter":0}},"y":{"field":"r","type":"ordinal","axis":null,"scale":{"domain":[0,1,2,3,4,5,6,7,8,9,10,11,12,13,14,15,16,17,18,19,20,21,22,23,24,25,26,27,28,29,30,31,32,33,34,35,36,37,38,39,40,41,42,43,44,45,46,47],"range":[52,728],"paddingInner":0,"paddingOuter":0}},"color":{"field":"v","type":"quantitative","legend":null}}},
{"data":{"name":"upperCells"},"mark":{"type":"rect"},"encoding":{"x":{"field":"c","type":"ordinal","axis":null,"scale":{"domain":[0,1,2,3,4,5,6,7,8,9,10,11,12,13,14,15,16,17,18,19,20,21,22,23,24,25,26,27,28,29,30,31,32,33,34,35,36,37,38,39,40,41,42,43,44,45,46,47,48,49,50,51,52,53,54,55,56,57,58,59,60,61,62,63],"range":[283,961.4],"paddingInner":0,"paddingOuter":0}},"y":{"field":"r","type":"ordinal","axis":null,"scale":{"domain":[0,1,2,3,4,5,6,7,8,9,10,11,12,13,14,15,16,17,18,19,20,21,22,23,24,25,26,27,28,29,30,31,32,33,34,35,36,37,38,39,40,41,42,43,44,45,46,47,48,49,50,51,52,53,54,55,56,57,58,59,60,61,62,63],"range":[48,726.4],"paddingInner":0,"paddingOuter":0}},"color":{"field":"v","type":"quantitative","legend":null}}},
{"data":{"name":"bands"},"transform":[{"flatten":["v","e"]}],"mark":{"type":"area","orient":"horizontal","strokeWidth":0.7},"encoding":{"y":{"field":"v","type":"quantitative","axis":null,"scale":{"domain":[0,1],"range":[733,51],"nice":false,"zero":false}},"x":{"field":"v","type":"quantitative","axis":null,"scale":{"domain":[0,1],"range":[820,139],"nice":false,"zero":false}},"x2":{"field":"e"},"color":{"field":"k","type":"quantitative","legend":null},"stroke":{"field":"k","type":"quantitative","legend":null,"scale":{"domain":[0,0.125,0.375,0.625,0.875,1],"range":["#000080","#0000ff","#00ffff","#ffff00","#ff0000","#800000"]}}}},
{"data":{"values":[{"p":"left","v":0,"x":0},{"p":"left","v":1,"x":1},{"p":"right","v":0,"x":-0.059},{"p":"right","v":1,"x":0.941},{"p":"top","v":1,"x":1},{"p":"top","v":1,"x":0.941}]},"mark":{"type":"line","color":"#1a1a1a","strokeWidth":0.8},"encoding":{"detail":{"field":"p"},"order":{"field":"x"},"x":{"field":"x","type":"quantitative","axis":null,"scale":{"domain":[0,1],"range":[820,139],"nice":false,"zero":false}},"y":{"field":"v","type":"quantitative","axis":null,"scale":{"domain":[0,1],"range":[733,51],"nice":false,"zero":false}}}},
{"data":{"name":"ticks"},"mark":{"type":"rule","color":"#333333","strokeWidth":0.8},"encoding":{"x":{"field":"a","type":"quantitative","axis":null,"scale":{"domain":[0,1],"range":[820,139],"nice":false,"zero":false}},"x2":{"field":"b"},"y":{"field":"t","type":"quantitative","axis":null,"scale":{"domain":[0,1],"range":[733,51],"nice":false,"zero":false}}}},
{"data":{"name":"labels"},"mark":{"type":"text","font":"Open Sans","fontSize":25.5,"color":"#111111","align":"center","baseline":"middle"},"encoding":{"text":{"field":"t"},"x":{"field":"u","type":"quantitative","axis":null,"scale":{"domain":[0,1],"range":[820,139],"nice":false,"zero":false}},"y":{"field":"w","type":"quantitative","axis":null,"scale":{"domain":[0,1],"range":[733,51],"nice":false,"zero":false}}}},
{"data":{"name":"titles"},"mark":{"type":"text","font":"Open Sans","fontSize":25,"color":"#111111","align":"center","baseline":"middle"},"encoding":{"text":{"field":"t"},"x":{"field":"u","type":"quantitative","axis":null,"scale":{"domain":[0,1],"range":[820,139],"nice":false,"zero":false}},"y":{"field":"w","type":"quantitative","axis":null,"scale":{"domain":[0,1],"range":[733,51],"nice":false,"zero":false}}}},
{"data":{"values":[{"t":"Noise Correlation","u":0.423,"w":0.534}]},"mark":{"type":"text","font":"Open Sans","fontSize":24.5,"color":"#111111","align":"center","baseline":"middle","angle":44},"encoding":{"text":{"field":"t"},"x":{"field":"u","type":"quantitative","axis":null,"scale":{"domain":[0,1],"range":[820,139],"nice":false,"zero":false}},"y":{"field":"w","type":"quantitative","axis":null,"scale":{"domain":[0,1],"range":[733,51],"nice":false,"zero":false}}}}
]}
